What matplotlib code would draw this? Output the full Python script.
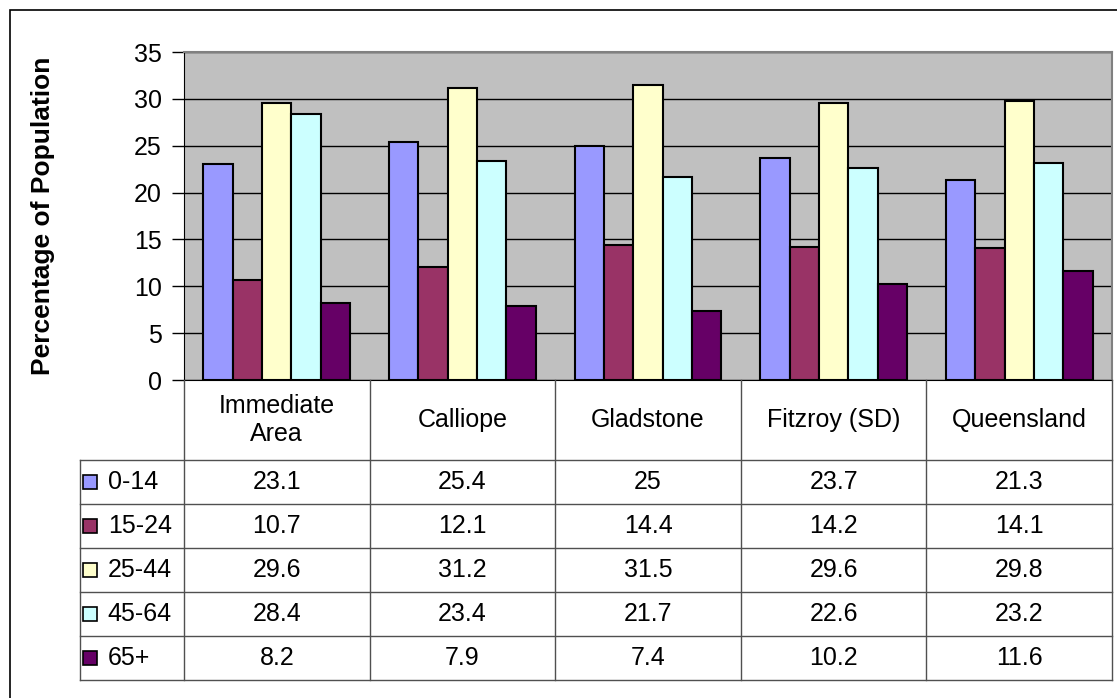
import matplotlib
matplotlib.use('Agg')
import matplotlib.pyplot as plt
import numpy as np
from matplotlib.patches import Rectangle

plt.rcParams['font.family'] = ['Liberation Sans', 'DejaVu Sans']

# data
areas = ['Immediate\nArea', 'Calliope', 'Gladstone', 'Fitzroy (SD)', 'Queensland']
age_groups = ['0-14', '15-24', '25-44', '45-64', '65+']
age_0_14 = [23.1, 25.4, 25, 23.7, 21.3]
age_15_24 = [10.7, 12.1, 14.4, 14.2, 14.1]
age_25_44 = [29.6, 31.2, 31.5, 29.6, 29.8]
age_45_64 = [28.4, 23.4, 21.7, 22.6, 23.2]
age_65_plus = [8.2, 7.9, 7.4, 10.2, 11.6]
colors = ['#9999FF', '#993366', '#FFFFCC', '#CCFFFF', '#660066']

series = [age_0_14, age_15_24, age_25_44, age_45_64, age_65_plus]

W, H = 1117, 698
fs = 18
fig = plt.figure(figsize=(W / 100, H / 100), dpi=100)

# outer chart border (runs off right and bottom)
fig.patches.append(Rectangle((10 / W, -0.1), 1.2, 1.1 - 10 / H,
                             transform=fig.transFigure, fill=False,
                             edgecolor='black', linewidth=1.2))

# plot area
pl, pr, pt, pb = 184, 1112, 52, 380
ax = fig.add_axes([pl / W, 1 - pb / H, (pr - pl) / W, (pb - pt) / H])
ax.set_facecolor('#C0C0C0')
x = np.arange(len(areas))
w = 0.158
for j, vals in enumerate(series):
    ax.bar(x + (j - 2) * w, vals, width=w, color=colors[j],
           edgecolor='black', linewidth=1.5, zorder=3)
ax.set_xlim(-0.5, 4.5)
ax.set_ylim(0, 35)
ax.set_yticks(range(0, 36, 5))
ax.yaxis.grid(True, color='black', linewidth=1, zorder=1)
ax.set_xticks([])
ax.tick_params(axis='y', length=9, width=1, direction='out', labelsize=fs, pad=7)
for s in ['top', 'right']:
    ax.spines[s].set_color('#808080')
    ax.spines[s].set_linewidth(1.5)
ax.spines['left'].set_color('black')
ax.spines['bottom'].set_color('black')
ax.set_ylabel('Percentage of Population', fontsize=19, fontweight='bold')
ax.yaxis.set_label_coords(-0.139, 0.5)

# data table below the chart
tl, tt, tb = 80, 380, 680
head_h = 80
row_h = (tb - tt - head_h) / len(age_groups)
tax = fig.add_axes([tl / W, 1 - tb / H, (pr - tl) / W, (tb - tt) / H])
leg_w = (pl - tl) / ((pr - pl) / len(areas))
tax.set_xlim(-0.5 - leg_w, 4.5)
tax.set_ylim(tb - tt, 0)
tax.axis('off')
lc = '#505050'
# vertical lines
for k in range(len(areas) + 1):
    tax.plot([k - 0.5, k - 0.5], [0, tb - tt], color=lc, lw=1, clip_on=False)
tax.plot([-0.5 - leg_w] * 2, [head_h, tb - tt], color=lc, lw=1, clip_on=False)
# horizontal lines
for r in range(len(age_groups) + 1):
    yy = head_h + r * row_h
    tax.plot([-0.5 - leg_w, 4.5], [yy, yy], color=lc, lw=1, clip_on=False)

for i, name in enumerate(areas):
    tax.text(i, head_h / 2, name, ha='center', va='center', fontsize=fs,
             linespacing=1.25)
for r, (grp, vals) in enumerate(zip(age_groups, series)):
    yc = head_h + (r + 0.5) * row_h
    tax.plot([-0.5 - leg_w + 0.055], [yc], marker='s', markersize=10,
             markerfacecolor=colors[r], markeredgecolor='black',
             markeredgewidth=1.2, clip_on=False)
    tax.text(-0.5 - leg_w + 0.15, yc, grp, ha='left', va='center', fontsize=fs)
    for i, v in enumerate(vals):
        tax.text(i, yc, f'{v:g}', ha='center', va='center', fontsize=fs)

fig.savefig('out.png', dpi=100)
